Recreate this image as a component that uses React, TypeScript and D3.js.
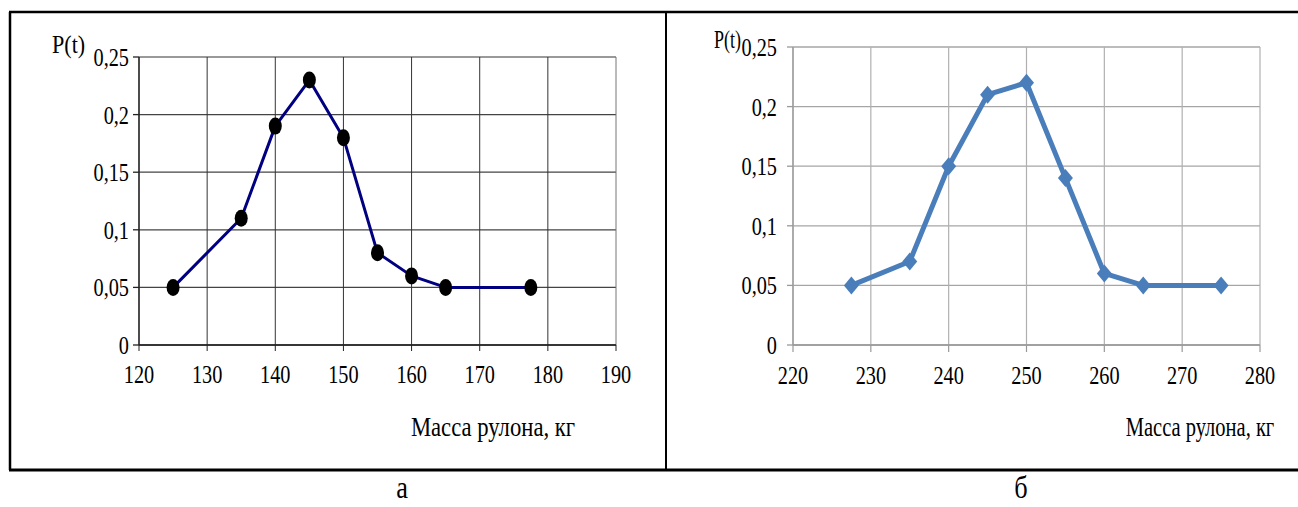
import React from "react";
import * as d3 from "d3";

const massA = [125, 135, 140, 145, 150, 155, 160, 165, 177.5];
const probA = [0.05, 0.11, 0.19, 0.23, 0.18, 0.08, 0.06, 0.05, 0.05];
const massB = [227.5, 235, 240, 245, 250, 255, 260, 265, 275];
const probB = [0.05, 0.07, 0.15, 0.21, 0.22, 0.14, 0.06, 0.05, 0.05];
const yTicks = [0, 0.05, 0.1, 0.15, 0.2, 0.25];
const xTicksA = [120, 130, 140, 150, 160, 170, 180, 190];
const xTicksB = [220, 230, 240, 250, 260, 270, 280];
const yLabel = "P(t)";
const xLabel = "Масса рулона, кг";
const captions = ["а", "б"];

const FONT = "Liberation Serif, Times New Roman, DejaVu Serif, serif";

const fmt = (v: number) => (v === 0 ? "0" : String(v).replace(".", ","));

function T({ x, y, children, anchor = "middle", size = 26, sx = 0.78 }: any) {
  return (
    <text
      transform={`translate(${x},${y}) scale(${sx},1)`}
      textAnchor={anchor}
      style={{ fontFamily: FONT, fontSize: size }}
      fill="#000"
    >
      {children}
    </text>
  );
}

function ChartA() {
  const x = d3.scaleLinear().domain([120, 190]).range([139, 616]);
  const y = d3.scaleLinear().domain([0, 0.25]).range([345, 57]);
  const pts: [number, number][] = massA.map((m, i) => [x(m), y(probA[i])]);
  const line = d3.line()(pts) as string;
  return (
    <g>
      {yTicks.map((t) => (
        <line key={"h" + t} x1={x(120)} x2={x(190)} y1={y(t)} y2={y(t)}
          stroke={t === 0.25 ? "#777" : "#444"} strokeWidth={1.3} />
      ))}
      {xTicksA.map((t) => (
        <line key={"v" + t} x1={x(t)} x2={x(t)} y1={y(0.25)} y2={y(0)}
          stroke={t === 190 ? "#777" : "#333"} strokeWidth={1} />
      ))}
      <line x1={x(120)} x2={x(120)} y1={y(0.25)} y2={y(0)} stroke="#222" strokeWidth={1.3} />
      <line x1={x(120)} x2={x(190)} y1={y(0)} y2={y(0)} stroke="#222" strokeWidth={1.5} />
      {yTicks.map((t) => (
        <line key={"yt" + t} x1={x(120) - 6} x2={x(120)} y1={y(t)} y2={y(t)} stroke="#222" strokeWidth={1.3} />
      ))}
      {xTicksA.map((t) => (
        <line key={"xt" + t} x1={x(t)} x2={x(t)} y1={y(0)} y2={y(0) + 6} stroke="#222" strokeWidth={1} />
      ))}
      <path d={line} fill="none" stroke="#000080" strokeWidth={3} strokeLinejoin="round" />
      {pts.map(([px, py], i) => (
        <ellipse key={"m" + i} cx={px} cy={py} rx={6.5} ry={8.5} fill="#000" />
      ))}
      {yTicks.map((t) => (
        <T key={"yl" + t} x={x(120) - 10} y={y(t) + 9} anchor="end">{fmt(t)}</T>
      ))}
      {xTicksA.map((t) => (
        <T key={"xl" + t} x={x(t)} y={y(0) + 38}>{t}</T>
      ))}
      <T x={52} y={53} anchor="start" sx={0.85}>{yLabel}</T>
      <T x={493} y={436} size={27} sx={0.84}>{xLabel}</T>
    </g>
  );
}

function ChartB() {
  const x = d3.scaleLinear().domain([220, 280]).range([793, 1260]);
  const y = d3.scaleLinear().domain([0, 0.25]).range([345, 47]);
  const pts: [number, number][] = massB.map((m, i) => [x(m), y(probB[i])]);
  const line = d3.line()(pts) as string;
  const diamond = (cx: number, cy: number) =>
    `M${cx},${cy - 9}L${cx + 7.5},${cy}L${cx},${cy + 9}L${cx - 7.5},${cy}Z`;
  return (
    <g>
      {yTicks.map((t) => (
        <line key={"h" + t} x1={x(220)} x2={x(280)} y1={y(t)} y2={y(t)} stroke="#a6a6a6" strokeWidth={1.3} />
      ))}
      {xTicksB.map((t) => (
        <line key={"v" + t} x1={x(t)} x2={x(t)} y1={y(0.25)} y2={y(0)} stroke="#b0b0b0" strokeWidth={1.2} />
      ))}
      <line x1={x(220)} x2={x(220)} y1={y(0.25)} y2={y(0)} stroke="#999" strokeWidth={1.3} />
      <line x1={x(220)} x2={x(280)} y1={y(0)} y2={y(0)} stroke="#999" strokeWidth={1.3} />
      {yTicks.map((t) => (
        <line key={"yt" + t} x1={x(220) - 6} x2={x(220)} y1={y(t)} y2={y(t)} stroke="#999" strokeWidth={1.3} />
      ))}
      {xTicksB.map((t) => (
        <line key={"xt" + t} x1={x(t)} x2={x(t)} y1={y(0)} y2={y(0) + 7} stroke="#999" strokeWidth={1.2} />
      ))}
      <path d={line} fill="none" stroke="#4a7ebb" strokeWidth={5} strokeLinejoin="round" />
      {pts.map(([px, py], i) => (
        <path key={"m" + i} d={diamond(px, py)} fill="#4a7ebb" />
      ))}
      {yTicks.map((t) => (
        <T key={"yl" + t} x={x(220) - 16} y={y(t) + 9} anchor="end">{fmt(t)}</T>
      ))}
      {xTicksB.map((t) => (
        <T key={"xl" + t} x={x(t)} y={y(0) + 39}>{t}</T>
      ))}
      <T x={714} y={48} anchor="start" size={25} sx={0.72}>{yLabel}</T>
      <T x={1200} y={436} size={27} sx={0.76}>{xLabel}</T>
    </g>
  );
}

export default function App() {
  return (
    <svg width={1298} height={507} style={{ position: "absolute", left: 0, top: 0, background: "#fff" }}>
      <rect x={0} y={0} width={1298} height={507} fill="#fff" />
      <line x1={9} x2={1298} y1={12} y2={12} stroke="#000" strokeWidth={2.5} />
      <line x1={9} x2={1298} y1={470} y2={470} stroke="#000" strokeWidth={3} />
      <line x1={10} x2={10} y1={12} y2={470} stroke="#000" strokeWidth={2.5} />
      <line x1={666} x2={666} y1={12} y2={470} stroke="#000" strokeWidth={2} />
      <ChartA />
      <ChartB />
      <T x={402} y={498} size={31} sx={0.85}>{captions[0]}</T>
      <T x={1021} y={498} size={31} sx={0.85}>{captions[1]}</T>
    </svg>
  );
}
